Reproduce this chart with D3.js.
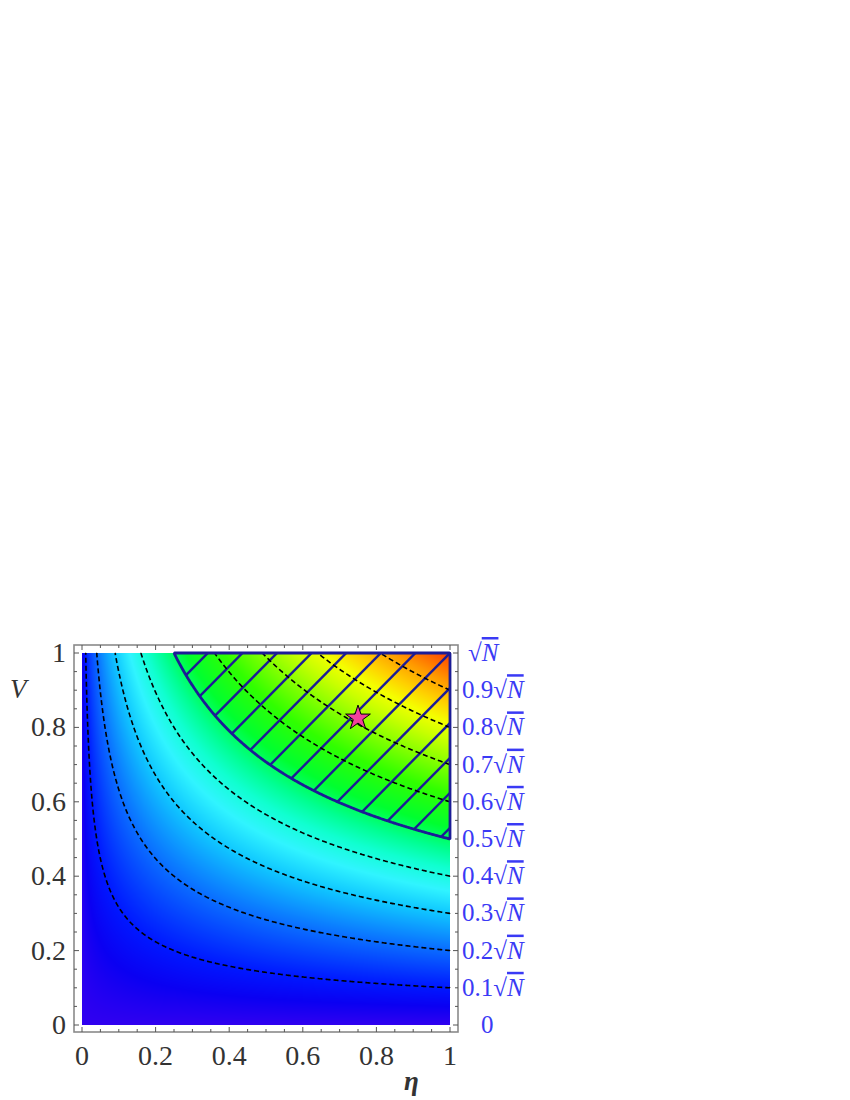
<!DOCTYPE html>
<html>
<head>
<meta charset="utf-8">
<script src="https://cdn.jsdelivr.net/npm/d3@7"></script>
<style>
  body { margin: 0; background: #fff; }
</style>
</head>
<body>
<div id="chart"></div>
<script>
// contour levels of f = V * sqrt(eta)
const dashedLevels = [0.1, 0.2, 0.3, 0.4, 0.6, 0.7, 0.8, 0.9]
const regionLevel = 0.5
// hatch lines eta - V = c
const hatchOffsets = [-0.752, -0.658, -0.564, -0.47, -0.376, -0.282, -0.188, -0.094, 0, 0.094, 0.188, 0.282, 0.376, 0.47]
const xTicks = [0, 0.2, 0.4, 0.6, 0.8, 1]
const xTickLabels = ['0', '0.2', '0.4', '0.6', '0.8', '1']
const yTicks = [0, 0.2, 0.4, 0.6, 0.8, 1]
const yTickLabels = ['0', '0.2', '0.4', '0.6', '0.8', '1']
const rightTicks = [0, 0.1, 0.2, 0.3, 0.4, 0.5, 0.6, 0.7, 0.8, 0.9, 1]
const rightCoeffs = ['0', '0.1', '0.2', '0.3', '0.4', '0.5', '0.6', '0.7', '0.8', '0.9', '']
const minorTicks = d3.range(0, 1.0001, 0.05)
const star = { eta: 0.75, V: 0.825 }
// colour function
const colorStops = [0, 0.05, 0.1, 0.2, 0.3, 0.36, 0.42, 0.47, 0.53, 0.62, 0.7, 0.76, 0.81, 0.86, 0.92, 1]
const colorValues = ['#3000f0', '#0a00f2', '#0018ff', '#0a6cff', '#10c8ff', '#30f4ff', '#10ffd0', '#00ff90',
  '#00ff30', '#30ff00', '#88ff00', '#c8ff00', '#f4ff00', '#ffd000', '#ff9800', '#ff4000']

const W = 850, H = 1100
const serif = '"Liberation Serif", "Times New Roman", Times, serif'
const x = d3.scaleLinear().domain([0, 1]).range([82, 450])
const y = d3.scaleLinear().domain([0, 1]).range([1025, 653])
const frame = { x0: 74, x1: 458, y0: 645, y1: 1032 }
const color = d3.scaleLinear().domain(colorStops).range(colorValues).interpolate(d3.interpolateRgb).clamp(true)
const field = (eta, V) => V * Math.sqrt(Math.max(eta, 0))

const svg = d3.select('#chart').append('svg')
  .attr('width', W).attr('height', H)
  .style('font-family', serif)

// density image
const pw = Math.round(x(1) - x(0)), ph = Math.round(y(0) - y(1))
const canvas = document.createElement('canvas')
canvas.width = pw; canvas.height = ph
const ctx = canvas.getContext('2d')
const img = ctx.createImageData(pw, ph)
for (let py = 0; py < ph; py++) {
  for (let px = 0; px < pw; px++) {
    const c = d3.rgb(color(field(x.invert(x(0) + px + 0.5), y.invert(y(1) + py + 0.5))))
    const k = (py * pw + px) * 4
    img.data[k] = c.r; img.data[k + 1] = c.g; img.data[k + 2] = c.b; img.data[k + 3] = 255
  }
}
ctx.putImageData(img, 0, 0)
svg.append('image')
  .attr('x', x(0)).attr('y', y(1)).attr('width', pw).attr('height', ph)
  .attr('preserveAspectRatio', 'none')
  .attr('href', canvas.toDataURL())

// grid of field values for d3.contours
const n = 300, m = 300
const values = new Array(n * m)
for (let j = 0; j < m; j++) for (let i = 0; i < n; i++) values[j * n + i] = field((i + 0.5) / n, (j + 0.5) / m)
const contours = d3.contours().size([n, m]).smooth(true)
const toPx = (p) => [x(p[0] / n), y(p[1] / m)]
const onEdge = (p, q) => (p[0] === 0 && q[0] === 0) || (p[0] === n && q[0] === n) ||
  (p[1] === 0 && q[1] === 0) || (p[1] === m && q[1] === m)

// split a closed ring into open polylines without the frame edges
function isolines(ring) {
  const len = ring.length - 1
  let start = -1
  for (let k = 0; k < len; k++) if (onEdge(ring[k], ring[k + 1])) { start = k; break }
  if (start < 0) return [ring]
  const out = []
  let cur = []
  for (let s = 1; s <= len; s++) {
    const a = ring[(start + s) % len], b = ring[(start + s + 1) % len]
    if (onEdge(a, b)) {
      if (cur.length > 1) out.push(cur)
      cur = []
    } else {
      if (!cur.length) cur.push(a)
      cur.push(b)
    }
  }
  if (cur.length > 1) out.push(cur)
  return out
}

const line = d3.line()
const dashed = []
dashedLevels.forEach((lv) => {
  const geo = contours.thresholds([lv])(values)[0]
  geo.coordinates.forEach((poly) => poly.forEach((ring) => isolines(ring).forEach((pl) => dashed.push(pl.map(toPx)))))
})

// hatched region f >= 0.5
const region = contours.thresholds([regionLevel])(values)[0]
const regionPath = region.coordinates.map((poly) => poly.map((ring) => line(ring.map(toPx)) + 'Z').join('')).join('')

svg.append('clipPath').attr('id', 'regionClip')
  .append('path').attr('d', regionPath)

svg.append('g').attr('clip-path', 'url(#regionClip)')
  .selectAll('line').data(hatchOffsets).join('line')
  .attr('x1', (c) => x(c - 0.2)).attr('y1', y(-0.2))
  .attr('x2', (c) => x(c + 1.2)).attr('y2', y(1.2))
  .attr('stroke', '#1c1c96').attr('stroke-width', 2.4)

svg.append('g').selectAll('path').data(dashed).join('path')
  .attr('d', (d) => line(d))
  .attr('fill', 'none').attr('stroke', '#000').attr('stroke-width', 1.6)
  .attr('stroke-dasharray', '5,3')

svg.append('path').attr('d', regionPath)
  .attr('fill', 'none').attr('stroke', '#1c1c96').attr('stroke-width', 2.8)
  .attr('stroke-linejoin', 'round')

// star
svg.append('path')
  .attr('d', d3.symbol(d3.symbolStar, 190)())
  .attr('transform', `translate(${x(star.eta)},${y(star.V)})`)
  .attr('fill', '#f2409c').attr('stroke', '#000').attr('stroke-width', 1)

// frame and ticks
const axisCol = '#8a8a8a'
svg.append('rect')
  .attr('x', frame.x0).attr('y', frame.y0)
  .attr('width', frame.x1 - frame.x0).attr('height', frame.y1 - frame.y0)
  .attr('fill', 'none').attr('stroke', axisCol).attr('stroke-width', 1.6)

const tickLen = (v) => (Math.abs(v * 5 - Math.round(v * 5)) < 1e-6 ? 5 : 3)
const ticks = svg.append('g').attr('stroke', '#555').attr('stroke-width', 1)
minorTicks.forEach((v) => {
  const L = tickLen(v)
  ticks.append('line').attr('x1', x(v)).attr('x2', x(v)).attr('y1', frame.y1).attr('y2', frame.y1 - L)
  ticks.append('line').attr('x1', x(v)).attr('x2', x(v)).attr('y1', frame.y0).attr('y2', frame.y0 + L)
  ticks.append('line').attr('y1', y(v)).attr('y2', y(v)).attr('x1', frame.x0).attr('x2', frame.x0 + L)
  ticks.append('line').attr('y1', y(v)).attr('y2', y(v)).attr('x1', frame.x1).attr('x2', frame.x1 - L)
})

svg.append('g').selectAll('text').data(xTicks).join('text')
  .attr('x', (d) => x(d)).attr('y', 1065)
  .attr('text-anchor', 'middle').attr('font-size', 28).attr('fill', '#333')
  .text((d, i) => xTickLabels[i])

svg.append('g').selectAll('text').data(yTicks).join('text')
  .attr('x', 66).attr('y', (d) => y(d) + 9)
  .attr('text-anchor', 'end').attr('font-size', 28).attr('fill', '#333')
  .text((d, i) => yTickLabels[i])

// right axis: V in units of sqrt(N)
const right = svg.append('g').selectAll('text').data(rightTicks).join('text')
  .attr('x', (d, i) => (i === 0 ? 481 : i === rightTicks.length - 1 ? 468 : 462))
  .attr('y', (d) => y(d) + 8)
  .attr('font-size', 25).attr('fill', '#3a3af5')
right.each(function (d, i) {
  const t = d3.select(this)
  if (i === 0) { t.text('0'); return }
  t.append('tspan').text(rightCoeffs[i] + '\u221A')
  t.append('tspan').attr('font-style', 'italic').style('text-decoration', 'overline').text('N')
})

svg.append('text').attr('x', 10).attr('y', 698)
  .attr('font-size', 27).attr('font-style', 'italic').attr('fill', '#333').text('V')
svg.append('text').attr('x', 404).attr('y', 1090)
  .attr('font-size', 27).attr('font-style', 'italic').attr('font-weight', 'bold').attr('fill', '#333').text('\u03B7')
</script>
</body>
</html>
